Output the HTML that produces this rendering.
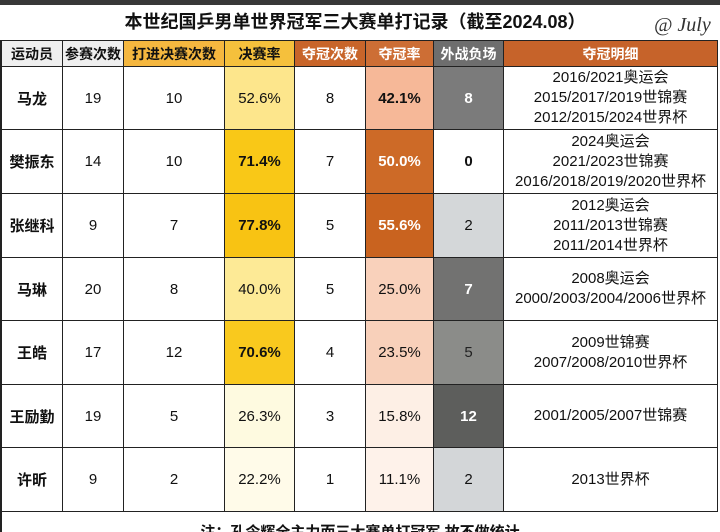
<!DOCTYPE html>
<html><head><meta charset="utf-8">
<style>
*{margin:0;padding:0;box-sizing:border-box}
html,body{width:720px;height:532px;overflow:hidden;background:#fff}
body{position:relative;font-family:"Liberation Sans","Noto Sans CJK SC",sans-serif;color:#111}
.topband{position:absolute;left:0;top:0;width:720px;height:5px;background:#383838}
.title{position:absolute;left:0;top:10px;width:710px;text-align:center;font-size:18px;font-weight:bold;line-height:24px;color:#111}
.sig{position:absolute;left:654px;top:12px;font-family:"Liberation Serif",serif;font-style:italic;font-size:20px;color:#333;line-height:26px}
.grid{position:absolute;left:0;top:40px;width:718px;border-left:2px solid #222;border-top:1px solid #222;border-right:1px solid #222;display:grid;
grid-template-columns:61px 61px 101px 70px 71px 68px 70px 213px;
grid-template-rows:26px 63px 64px 64px 63px 64px 63px 64px}
.grid>div{border-right:1px solid #222;border-bottom:1px solid #222;display:flex;align-items:center;justify-content:center;text-align:center;font-size:15px}
.grid>div.last{border-right:none}
.h{font-size:14px!important;font-weight:bold}
.n{font-weight:bold}
.b{font-weight:bold}
.w{color:#fff}
.d{line-height:20px;flex-direction:column}
.foot{position:absolute;left:0;top:512px;width:720px;height:20px;border-left:2px solid #222}
.foottxt{position:absolute;left:0;top:524px;width:720px;text-align:center;font-size:15px;font-weight:bold;line-height:17px;color:#111}
</style></head><body>
<div class="topband"></div>
<div class="title">本世纪国乒男单世界冠军三大赛单打记录（截至2024.08）</div>
<div class="sig">@ July</div>
<div class="grid">
<div class="h" style="background:#efefef">运动员</div>
<div class="h" style="background:#efefef">参赛次数</div>
<div class="h" style="background:#f5b73f">打进决赛次数</div>
<div class="h" style="background:#f5c03c">决赛率</div>
<div class="h w" style="background:#c8652a">夺冠次数</div>
<div class="h w" style="background:#cd6e35">夺冠率</div>
<div class="h w" style="background:#6e6e6e">外战负场</div>
<div class="h w last" style="background:#c6632a">夺冠明细</div>

<div class="n">马龙</div><div>19</div><div>10</div>
<div style="background:#fde68c">52.6%</div><div>8</div>
<div class="b" style="background:#f6b898">42.1%</div>
<div class="b w" style="background:#7b7b7b">8</div>
<div class="d last"><span>2016/2021奥运会</span><span>2015/2017/2019世锦赛</span><span>2012/2015/2024世界杯</span></div>

<div class="n">樊振东</div><div>14</div><div>10</div>
<div class="b" style="background:#f9c817">71.4%</div><div>7</div>
<div class="b w" style="background:#cd6a27">50.0%</div>
<div class="b">0</div>
<div class="d last"><span>2024奥运会</span><span>2021/2023世锦赛</span><span>2016/2018/2019/2020世界杯</span></div>

<div class="n">张继科</div><div>9</div><div>7</div>
<div class="b" style="background:#f8c313">77.8%</div><div>5</div>
<div class="b w" style="background:#c9631f">55.6%</div>
<div style="background:#d4d7d9">2</div>
<div class="d last"><span>2012奥运会</span><span>2011/2013世锦赛</span><span>2011/2014世界杯</span></div>

<div class="n">马琳</div><div>20</div><div>8</div>
<div style="background:#fdea96">40.0%</div><div>5</div>
<div style="background:#f9d1bb">25.0%</div>
<div class="b w" style="background:#727271">7</div>
<div class="d last"><span>2008奥运会</span><span>2000/2003/2004/2006世界杯</span></div>

<div class="n">王皓</div><div>17</div><div>12</div>
<div class="b" style="background:#f9c91e">70.6%</div><div>4</div>
<div style="background:#f8d0ba">23.5%</div>
<div style="background:#8b8c89;color:#222">5</div>
<div class="d last"><span>2009世锦赛</span><span>2007/2008/2010世界杯</span></div>

<div class="n">王励勤</div><div>19</div><div>5</div>
<div style="background:#fefae0">26.3%</div><div>3</div>
<div style="background:#fdefe5">15.8%</div>
<div class="b w" style="background:#5d5e5c">12</div>
<div class="d last"><span>2001/2005/2007世锦赛</span></div>

<div class="n">许昕</div><div>9</div><div>2</div>
<div style="background:#fffbe9">22.2%</div><div>1</div>
<div style="background:#fef2ea">11.1%</div>
<div style="background:#d3d6d8">2</div>
<div class="d last"><span>2013世界杯</span></div>
</div>
<div class="foot"></div>
<div class="foottxt">注：孔令辉全主力而三大赛单打冠军 故不做统计</div>
</body></html>
